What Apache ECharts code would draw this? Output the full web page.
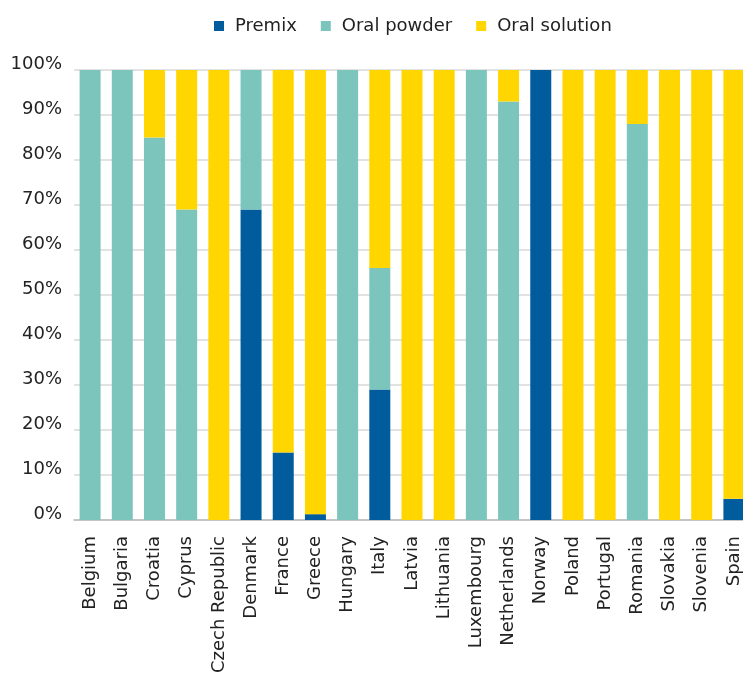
<!DOCTYPE html>
<html>
<head>
<meta charset="utf-8">
<script src="https://cdn.jsdelivr.net/npm/echarts@6/dist/echarts.min.js"></script>
<style>html,body{margin:0;padding:0;background:#fff;}#c{width:743px;height:673px;}</style>
</head>
<body>
<div id="c"></div>
<script>
const categories = ['Belgium','Bulgaria','Croatia','Cyprus','Czech Republic','Denmark','France','Greece','Hungary','Italy','Latvia','Lithuania','Luxembourg','Netherlands','Norway','Poland','Portugal','Romania','Slovakia','Slovenia','Spain'];
const premix =      [0,0,0,0,0,69,15,1.3,0,29,0,0,0,0,100,0,0,0,0,0,4.7];
const oralPowder =  [100,100,85,69,0,31,0,0,100,27,0,0,100,93,0,0,0,88,0,0,0];
const oralSolution =[0,0,15,31,100,0,85,98.7,0,44,100,100,0,7,0,100,100,12,100,100,95.3];
const yTicks = [0,10,20,30,40,50,60,70,80,90,100];

const font = '"DejaVu Sans", Verdana, sans-serif';
const chart = echarts.init(document.getElementById('c'));
function s(name, data, color){
  return {name, type:'bar', stack:'a', data, barWidth:21, itemStyle:{color}, emphasis:{disabled:true}};
}
chart.setOption({
  animation:false,
  legend:{top:12, left:209, itemWidth:10, itemHeight:10, itemGap:24, icon:'rect',
    textStyle:{fontFamily:font, fontSize:18, color:'#222', padding:[0,0,0,6]}},
  grid:{left:74, width:676, top:70, bottom:153, containLabel:false, outerBoundsMode:'none'},
  xAxis:{type:'category', data:categories,
    axisLine:{lineStyle:{color:'#bbb', width:1.5}},
    axisTick:{inside:true, length:8, lineStyle:{color:'#aaa'}},
    axisLabel:{rotate:90, fontFamily:font, fontSize:18, color:'#222', margin:16, interval:0}},
  yAxis:{type:'value', min:0, max:100, interval:10,
    axisLine:{show:false}, axisTick:{show:false},
    splitLine:{lineStyle:{color:'#d9d9d9', width:1.5}},
    axisLabel:{formatter:v=>yTicks.includes(v)?v+'%':'', fontFamily:font, fontSize:18, color:'#222', margin:12, verticalAlign:'bottom', lineHeight:11}},
  series:[s('Premix',premix,'#005C9C'), s('Oral powder',oralPowder,'#7CC5BD'), s('Oral solution',oralSolution,'#FFD600')]
});
</script>
</body>
</html>
